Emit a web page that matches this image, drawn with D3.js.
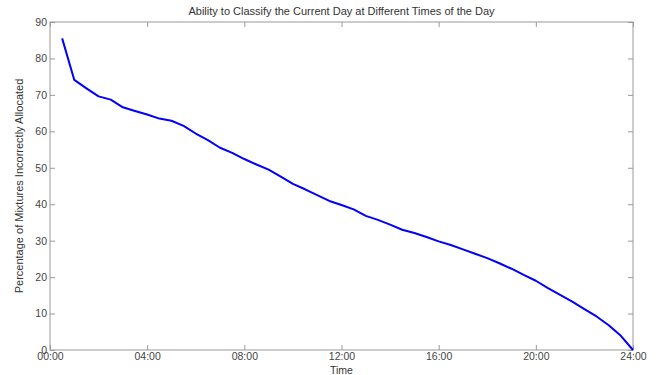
<!DOCTYPE html>
<html>
<head>
<meta charset="utf-8">
<script src="https://cdn.jsdelivr.net/npm/d3@7"></script>
<style>
    body { margin: 0; background: #fff; }
    text { font-family: "Liberation Sans", Arial, sans-serif; }
</style>
</head>
<body>
<svg id="chart" width="657" height="375"></svg>
<script>
// hours of the day (half-hour steps) and % of mixtures incorrectly allocated
const hours = [0.5, 1, 1.5, 2, 2.5, 3, 3.5, 4, 4.5, 5, 5.5, 6, 6.5, 7, 7.5, 8, 8.5, 9, 9.5, 10,
    10.5, 11, 11.5, 12, 12.5, 13, 13.5, 14, 14.5, 15, 15.5, 16, 16.5, 17, 17.5, 18, 18.5, 19, 19.5, 20,
    20.5, 21, 21.5, 22, 22.5, 23, 23.5, 24]
const pctWrong = [85.5, 74.1, 71.8, 69.6, 68.7, 66.6, 65.6, 64.6, 63.5, 62.9, 61.5, 59.4, 57.6, 55.5, 54.1, 52.4, 50.9, 49.5, 47.6, 45.6,
    44.1, 42.5, 40.9, 39.8, 38.6, 36.8, 35.7, 34.4, 33.0, 32.1, 31.0, 29.8, 28.8, 27.6, 26.4, 25.2, 23.8, 22.3, 20.6, 19.0,
    17.0, 15.1, 13.3, 11.2, 9.2, 6.8, 3.9, 0.0]
const xTicks = [0, 4, 8, 12, 16, 20, 24]
const xTickLabels = ["00:00", "04:00", "08:00", "12:00", "16:00", "20:00", "24:00"]
const yTicks = [0, 10, 20, 30, 40, 50, 60, 70, 80, 90]

const margin = { left: 50, right: 24, top: 22, bottom: 25 }
const svg = d3.select("#chart")
const W = +svg.attr("width"), H = +svg.attr("height")
const x0 = margin.left, x1 = W - margin.right
const y0 = H - margin.bottom, y1 = margin.top

const scX = d3.scaleLinear().domain([0, 24]).range([x0, x1])
const scY = d3.scaleLinear().domain([0, 90]).range([y0, y1])

const axisColor = "#9a9a9a"
const textColor = "#444"

// bottom axis, ticks pointing in
svg.append("g")
    .attr("transform", `translate(0,${y0})`)
    .call(d3.axisBottom(scX).tickValues(xTicks).tickSizeInner(-5).tickSizeOuter(0)
        .tickPadding(3).tickFormat((d, i) => xTickLabels[i]))
    .call(g => g.select(".domain").remove())
    .call(g => g.selectAll("line").attr("stroke", axisColor))
    .call(g => g.selectAll("text").attr("fill", textColor).attr("font-size", 10.5))

// top ticks
svg.append("g")
    .attr("transform", `translate(0,${y1})`)
    .call(d3.axisTop(scX).tickValues(xTicks).tickSizeInner(-5).tickSizeOuter(0).tickFormat(""))
    .call(g => g.select(".domain").remove())
    .call(g => g.selectAll("line").attr("stroke", axisColor))

// left axis
svg.append("g")
    .attr("transform", `translate(${x0},0)`)
    .call(d3.axisLeft(scY).tickValues(yTicks).tickSizeInner(-5).tickSizeOuter(0).tickPadding(3))
    .call(g => g.select(".domain").remove())
    .call(g => g.selectAll("line").attr("stroke", axisColor))
    .call(g => g.selectAll("text").attr("fill", textColor).attr("font-size", 10.5))

// right ticks
svg.append("g")
    .attr("transform", `translate(${x1},0)`)
    .call(d3.axisRight(scY).tickValues(yTicks).tickSizeInner(-5).tickSizeOuter(0).tickFormat(""))
    .call(g => g.select(".domain").remove())
    .call(g => g.selectAll("line").attr("stroke", axisColor))

// box round the plot
svg.append("rect")
    .attr("x", x0).attr("y", y1)
    .attr("width", x1 - x0).attr("height", y0 - y1)
    .attr("fill", "none").attr("stroke", axisColor).attr("stroke-width", 1)

// the line
const lnMkr = d3.line().x((d, i) => scX(hours[i])).y(d => scY(d))
svg.append("path")
    .attr("d", lnMkr(pctWrong))
    .attr("fill", "none")
    .attr("stroke", "#0000ff")
    .attr("stroke-width", 2)
    .attr("stroke-linejoin", "round")

// labels
svg.append("text")
    .attr("x", (x0 + x1) / 2).attr("y", 15)
    .attr("text-anchor", "middle").attr("font-size", 11).attr("fill", "#333")
    .text("Ability to Classify the Current Day at Different Times of the Day")

svg.append("text")
    .attr("x", (x0 + x1) / 2).attr("y", 374)
    .attr("text-anchor", "middle").attr("font-size", 10.5).attr("fill", "#333")
    .text("Time")

svg.append("text")
    .attr("transform", `translate(23,${(y0 + y1) / 2}) rotate(-90)`)
    .attr("text-anchor", "middle").attr("font-size", 11).attr("fill", "#333")
    .text("Percentage of Mixtures Incorrectly Allocated")
</script>
</body>
</html>
